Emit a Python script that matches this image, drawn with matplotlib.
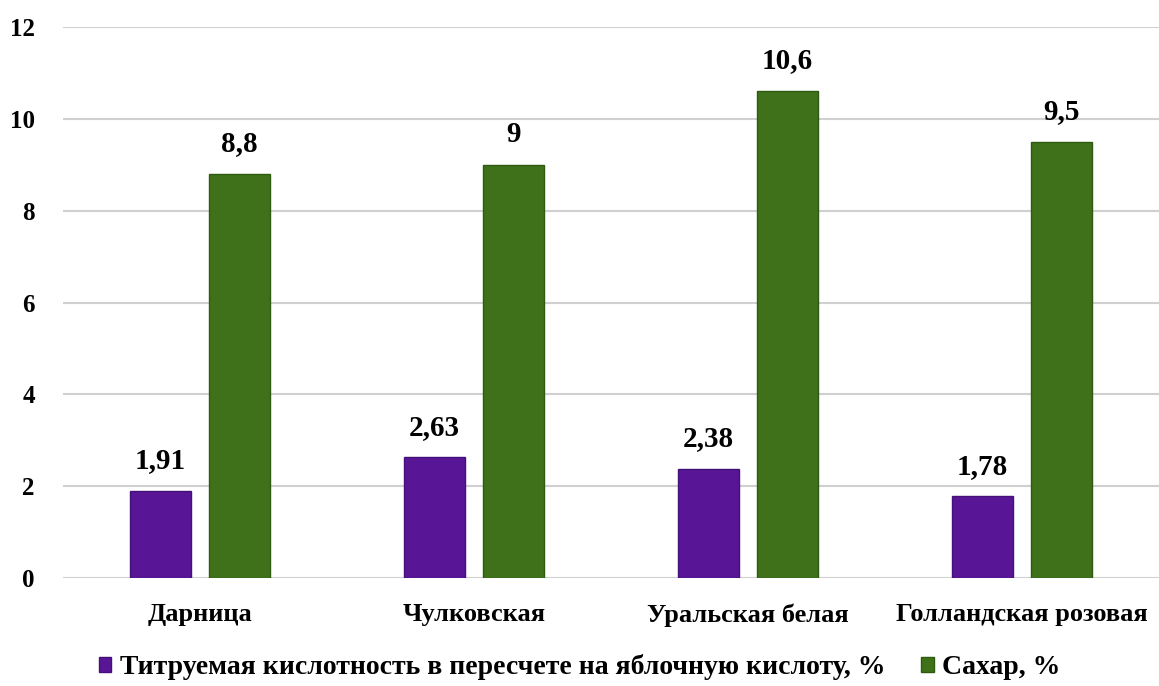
import matplotlib.pyplot as plt
import numpy as np

plt.rcParams['font.family'] = ['Liberation Serif', 'DejaVu Serif']
plt.rcParams['font.weight'] = 'bold'

varieties = ['Дарница', 'Чулковская', 'Уральская белая', 'Голландская розовая']
acidity = [1.91, 2.63, 2.38, 1.78]
sugar = [8.8, 9, 10.6, 9.5]
acid_labels = ['1,91', '2,63', '2,38', '1,78']
sugar_labels = ['8,8', '9', '10,6', '9,5']

fig = plt.figure(figsize=(11.59, 6.86), dpi=100)
ax = fig.add_axes([0.054, 0.157, 0.946, 0.804])

x = np.arange(len(varieties))
width = 0.223
off = 0.144
b1 = ax.bar(x - off, acidity, width, color='#581696', edgecolor='#44107a', linewidth=1,
            label='Титруемая кислотность в пересчете на яблочную кислоту, %', zorder=3)
b2 = ax.bar(x + off, sugar, width, color='#3e7119', edgecolor='#2f5a12', linewidth=1,
            label='Сахар, %', zorder=3)

# value labels above the bars
for bars, texts in ((b1, acid_labels), (b2, sugar_labels)):
    for rect, txt in zip(bars, texts):
        ax.annotate(txt, (rect.get_x() + rect.get_width() / 2, rect.get_height()),
                    xytext=(0, 12), textcoords='offset points', ha='center', va='bottom',
                    fontsize=21, fontweight='bold')

ax.set_xlim(-0.5, len(varieties) - 0.5)
ax.set_ylim(0, 12)
ax.set_yticks(range(0, 13, 2))
ax.set_xticks(x)
ax.set_xticklabels(varieties, fontsize=19, fontweight='bold')
ax.tick_params(axis='y', labelsize=18, length=0, pad=20)
ax.tick_params(axis='x', length=0, pad=18)
for s in ax.spines.values():
    s.set_visible(False)
ax.grid(axis='y', color='#d0d0d0', linewidth=1.5, zorder=0)
ax.set_axisbelow(True)

fig.legend(loc='lower center', bbox_to_anchor=(0.5, -0.028), ncol=2, frameon=False,
           fontsize=20, handlelength=0.45, handleheight=0.45, handletextpad=0.3,
           columnspacing=1.3)

fig.savefig('out.png', dpi=100)
